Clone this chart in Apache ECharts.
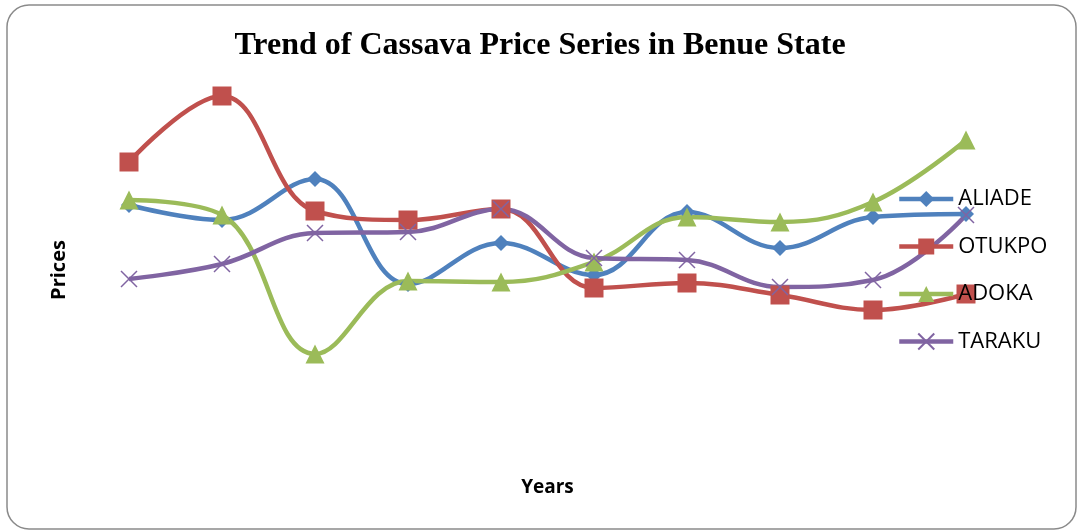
<!DOCTYPE html>
<html>
<head>
<meta charset="utf-8">
<script src="https://cdn.jsdelivr.net/npm/echarts@6/dist/echarts.min.js"></script>
<style>
  html, body { margin: 0; padding: 0; background: #fff; }
  #chart { width: 1080px; height: 532px; }
</style>
</head>
<body>
<div id="chart"></div>
<script>
var chart = echarts.init(document.getElementById("chart"));

// years are not labelled on the original, only the 10 positions
var years = ["1", "2", "3", "4", "5", "6", "7", "8", "9", "10"];
var aliade = [275, 260, 301, 196, 237, 205, 268, 232, 263, 266];
var otukpo = [318, 384, 269, 260, 271, 192, 197, 185, 170, 186];
var adoka  = [280, 265, 126, 199, 198, 218, 263, 258, 278, 340];
var taraku = [201, 216, 247, 248, 271, 222, 220, 193, 200, 265];

var crossPath = "path://M0,0L10,10M10,0L0,10";

function line(name, data, color, symbol, size) {
    return {
        name: name,
        type: "line",
        data: data,
        smooth: 0.4,
        symbol: symbol,
        symbolSize: size,
        lineStyle: { width: 4.5, color: color },
        itemStyle: { color: color },
        emphasis: { disabled: true }
    };
}

var tarakuSeries = line("TARAKU", taraku, "#8064A2", crossPath, 16);
tarakuSeries.itemStyle = { color: "#8064A2", borderColor: "#8064A2", borderWidth: 1.5 };

option = {
    animation: false,
    title: {
        text: "Trend of Cassava Price Series in Benue State",
        left: "center",
        top: 25,
        textStyle: {
            fontFamily: "Liberation Serif",
            fontWeight: "bold",
            fontSize: 32,
            color: "#000"
        }
    },
    graphic: [{
        type: "rect",
        shape: { x: 7, y: 5, width: 1069, height: 524, r: 22 },
        style: { fill: "none", stroke: "#8a8a8a", lineWidth: 1.5 },
        silent: true
    }],
    legend: {
        orient: "vertical",
        left: 892,
        top: 183,
        itemWidth: 54,
        itemHeight: 20,
        itemGap: 25.5,
        lineStyle: { width: 4.5 },
        textStyle: { fontFamily: "Open Sans", fontSize: 22, color: "#000" },
        data: ["ALIADE", "OTUKPO", "ADOKA", "TARAKU"]
    },
    grid: { left: 129, right: 114, top: 60, bottom: 52 },
    xAxis: {
        type: "category",
        data: years,
        boundaryGap: false,
        name: "Years",
        nameLocation: "middle",
        nameGap: 8,
        nameTextStyle: {
            fontFamily: "Open Sans", fontWeight: "bold", fontSize: 19,
            color: "#000", verticalAlign: "middle"
        },
        axisLine: { show: false },
        axisTick: { show: false },
        axisLabel: { show: false },
        splitLine: { show: false }
    },
    yAxis: {
        type: "value",
        min: 0,
        max: 420,
        name: "Prices",
        nameLocation: "middle",
        nameGap: 60,
        nameTextStyle: {
            fontFamily: "Open Sans", fontWeight: "bold", fontSize: 20, color: "#000"
        },
        axisLine: { show: false },
        axisTick: { show: false },
        axisLabel: { show: false },
        splitLine: { show: false }
    },
    series: [
        line("ALIADE", aliade, "#4F81BD", "diamond", 16),
        line("OTUKPO", otukpo, "#C0504D", "rect", 19),
        line("ADOKA", adoka, "#9BBB59", "triangle", 19),
        tarakuSeries
    ]
};
chart.setOption(option);
</script>
</body>
</html>
